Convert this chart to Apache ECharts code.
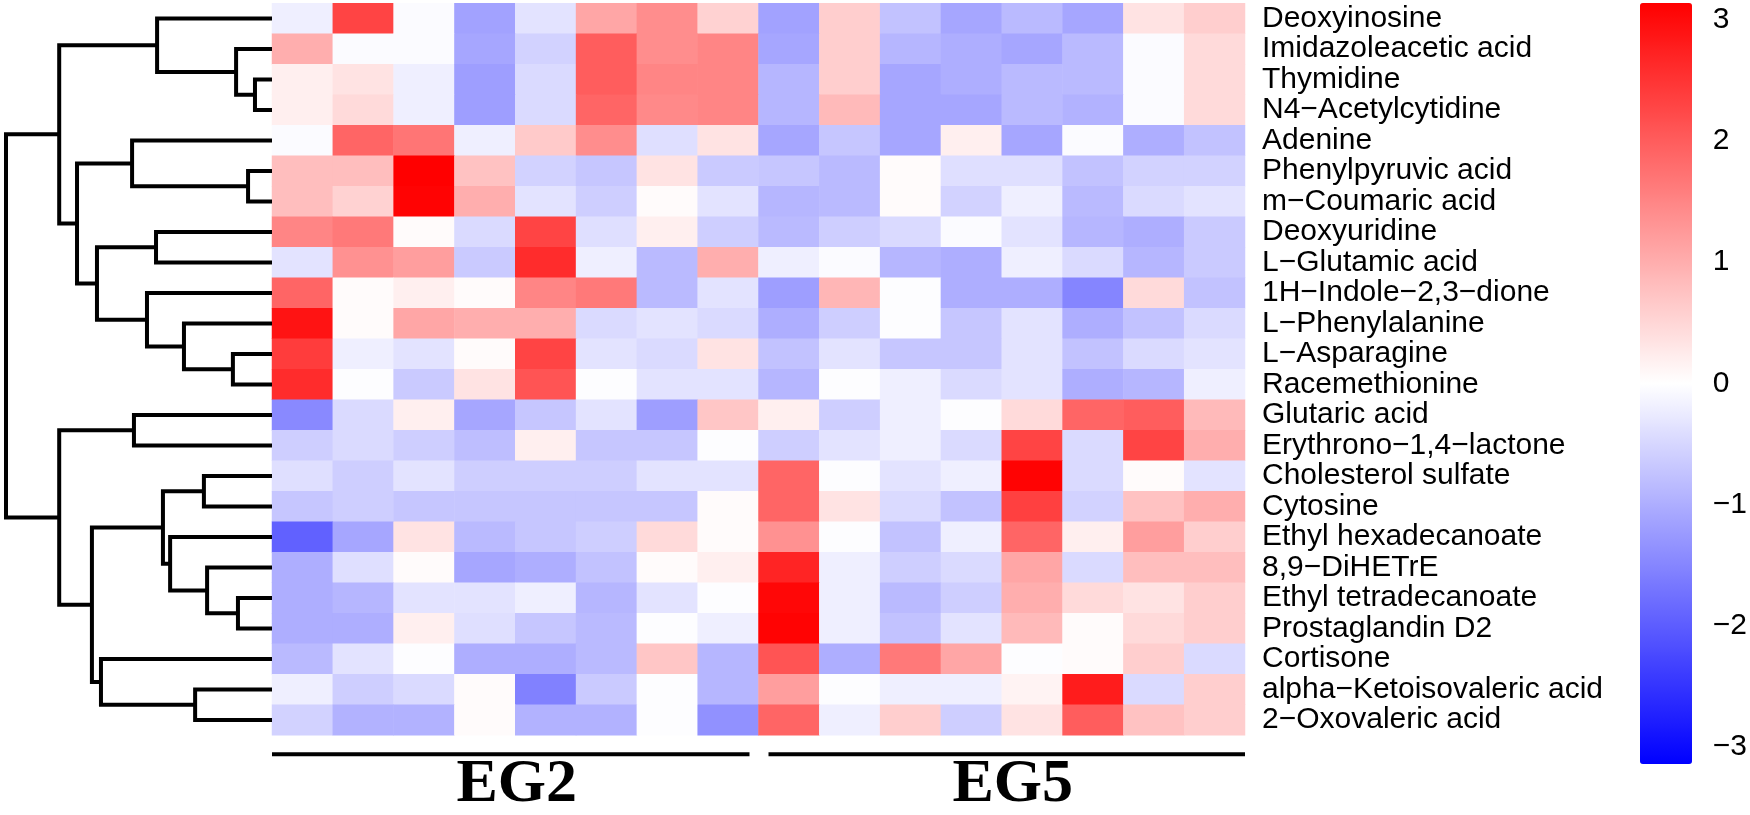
<!DOCTYPE html>
<html><head><meta charset="utf-8">
<script src="https://cdn.jsdelivr.net/npm/echarts@6/dist/echarts.min.js"></script>
<style>html,body{margin:0;padding:0;background:#fff}#c{width:1750px;height:815px}</style>
</head><body><div id="c"></div>
<script>
const M = '\u2212';
const metabolites = [
  'Deoxyinosine','Imidazoleacetic acid','Thymidine','N4'+M+'Acetylcytidine','Adenine',
  'Phenylpyruvic acid','m'+M+'Coumaric acid','Deoxyuridine','L'+M+'Glutamic acid',
  '1H'+M+'Indole'+M+'2,3'+M+'dione','L'+M+'Phenylalanine','L'+M+'Asparagine','Racemethionine',
  'Glutaric acid','Erythrono'+M+'1,4'+M+'lactone','Cholesterol sulfate','Cytosine',
  'Ethyl hexadecanoate','8,9'+M+'DiHETrE','Ethyl tetradecanoate','Prostaglandin D2','Cortisone',
  'alpha'+M+'Ketoisovaleric acid','2'+M+'Oxovaleric acid'
];
const samples = ['EG2-1','EG2-2','EG2-3','EG2-4','EG2-5','EG2-6','EG2-7','EG2-8',
                 'EG5-1','EG5-2','EG5-3','EG5-4','EG5-5','EG5-6','EG5-7','EG5-8'];
const groupNames = ['EG2','EG5'];
const groupFirstCol = [0, 8];
const groupLastCol = [7, 15];

const eg2Values = [
  [-0.2, 2.3, -0.05, -1.15, -0.35, 1.1, 1.4, 0.55],
  [1.0, -0.05, -0.05, -1.1, -0.55, 2.0, 1.4, 1.5],
  [0.2, 0.35, -0.2, -1.2, -0.45, 2.0, 1.5, 1.5],
  [0.2, 0.45, -0.2, -1.2, -0.45, 1.9, 1.45, 1.5],
  [-0.05, 1.9, 1.7, -0.2, 0.65, 1.4, -0.4, 0.35],
  [0.8, 0.8, 3.14, 0.75, -0.55, -0.7, 0.35, -0.65],
  [0.8, 0.55, 3.1, 1.0, -0.35, -0.6, 0.05, -0.35],
  [1.5, 1.65, 0.05, -0.45, 2.3, -0.4, 0.2, -0.6],
  [-0.35, 1.35, 1.2, -0.65, 2.6, -0.2, -0.85, 1.0],
  [1.9, 0.05, 0.2, 0.05, 1.5, 1.65, -0.85, -0.35],
  [2.9, 0.05, 1.1, 1.0, 1.0, -0.45, -0.35, -0.45],
  [2.4, -0.2, -0.35, 0.05, 2.3, -0.35, -0.45, 0.35],
  [2.6, -0.03, -0.65, 0.35, 2.1, -0.03, -0.35, -0.35],
  [-1.45, -0.45, 0.2, -1.1, -0.7, -0.35, -1.2, 0.7],
  [-0.6, -0.45, -0.6, -0.8, 0.2, -0.7, -0.7, -0.03],
  [-0.4, -0.6, -0.35, -0.6, -0.6, -0.6, -0.35, -0.35],
  [-0.7, -0.6, -0.7, -0.7, -0.7, -0.7, -0.7, 0.05],
  [-1.95, -1.1, 0.35, -0.85, -0.7, -0.6, 0.45, 0.05],
  [-1.0, -0.4, 0.05, -1.1, -1.0, -0.75, 0.05, 0.2],
  [-1.0, -0.9, -0.35, -0.35, -0.2, -0.9, -0.35, -0.03],
  [-1.0, -1.0, 0.2, -0.4, -0.7, -0.85, -0.03, -0.2],
  [-0.85, -0.35, -0.03, -1.0, -1.0, -0.85, 0.7, -0.9],
  [-0.2, -0.6, -0.45, 0.05, -1.55, -0.65, -0.03, -0.9],
  [-0.55, -0.95, -0.95, 0.05, -0.95, -0.95, -0.03, -1.35]
];
const eg5Values = [
  [-1.15, 0.6, -0.75, -1.1, -0.85, -1.1, 0.35, 0.6],
  [-1.1, 0.6, -0.9, -1.0, -1.1, -0.85, -0.05, 0.45],
  [-0.9, 0.6, -1.1, -1.0, -0.85, -0.85, -0.05, 0.45],
  [-0.9, 0.85, -1.1, -1.1, -0.85, -0.95, -0.05, 0.45],
  [-1.1, -0.7, -1.1, 0.2, -1.1, -0.05, -1.0, -0.75],
  [-0.7, -0.85, 0.05, -0.4, -0.4, -0.75, -0.55, -0.55],
  [-0.9, -0.85, 0.05, -0.55, -0.2, -0.85, -0.45, -0.35],
  [-0.85, -0.6, -0.45, -0.05, -0.35, -0.9, -1.0, -0.65],
  [-0.2, -0.05, -0.9, -1.0, -0.2, -0.45, -0.9, -0.65],
  [-1.2, 0.9, -0.03, -1.0, -1.0, -1.5, 0.45, -0.75],
  [-1.0, -0.6, -0.03, -0.7, -0.35, -1.0, -0.75, -0.45],
  [-0.75, -0.35, -0.7, -0.7, -0.35, -0.75, -0.45, -0.35],
  [-0.9, -0.03, -0.2, -0.45, -0.35, -1.0, -0.9, -0.2],
  [0.2, -0.6, -0.2, -0.03, 0.45, 1.9, 2.0, 0.85],
  [-0.6, -0.35, -0.2, -0.45, 2.3, -0.45, 2.3, 1.0],
  [1.9, -0.03, -0.35, -0.2, 3.1, -0.45, 0.05, -0.35],
  [1.9, 0.35, -0.45, -0.75, 2.35, -0.55, 0.75, 1.0],
  [1.35, -0.03, -0.75, -0.2, 1.9, 0.2, 1.2, 0.6],
  [2.7, -0.2, -0.6, -0.45, 1.1, -0.45, 0.8, 0.8],
  [3.05, -0.2, -0.85, -0.6, 1.0, 0.45, 0.35, 0.6],
  [3.1, -0.2, -0.75, -0.35, 0.85, 0.05, 0.45, 0.6],
  [2.1, -1.0, 1.65, 1.1, -0.03, 0.05, 0.6, -0.45],
  [1.2, -0.03, -0.2, -0.2, 0.15, 2.8, -0.45, 0.6],
  [1.9, -0.2, 0.6, -0.6, 0.35, 2.0, 0.75, 0.6]
];
// dendrogram merges: [id, childA, childB, height]; numbers = row index, strings = merge id
const dendroMerges = [
  ['A', 2, 3, 0.64], ['B', 1, 'A', 1.35], ['C', 0, 'B', 4.32],
  ['D', 5, 6, 0.9], ['E', 4, 'D', 5.26], ['F', 7, 8, 4.36],
  ['G', 11, 12, 1.47], ['H', 10, 'G', 3.31], ['I', 9, 'H', 4.7],
  ['J', 'F', 'I', 6.58], ['K', 'E', 'J', 7.33], ['L', 'C', 'K', 8.0],
  ['M', 13, 14, 5.19], ['N', 15, 16, 2.56], ['O', 19, 20, 1.28],
  ['P', 18, 'O', 2.44], ['Q', 17, 'P', 3.83], ['R', 'N', 'Q', 4.1],
  ['S', 22, 23, 2.89], ['T', 21, 'S', 6.43], ['U', 'R', 'T', 6.77],
  ['V', 'M', 'U', 8.0], ['W', 'L', 'V', 10.0]
];
const scaleMin = -3.14, scaleMax = 3.14;
const tickMin = -3, tickMax = 3, tickStep = 1;

// ---- build data
const heatData = [];
metabolites.forEach((m, r) => {
  const row = eg2Values[r].concat(eg5Values[r]);
  row.forEach((v, c) => heatData.push([c, r, v]));
});
const nodes = {};
const nodeOf = k => typeof k === 'number' ? {h: 0, y: k} : nodes[k];
const dendroData = dendroMerges.map(([id, a, b, h]) => {
  const na = nodeOf(a), nb = nodeOf(b);
  nodes[id] = {h: h, y: (na.y + nb.y) / 2};
  return [na.h, na.y, nb.h, nb.y, h];
});

const FONT = '"Liberation Sans", Arial, sans-serif';
const chart = echarts.init(document.getElementById('c'), null, {renderer: 'canvas'});
const HM = {left: 272, top: 3.3, width: 973, height: 732};
chart.setOption({
  animation: false,
  backgroundColor: '#ffffff',
  grid: [
    {left: HM.left, top: HM.top, width: HM.width, height: HM.height},
    {left: 6, top: HM.top, width: HM.left - 6, height: HM.height},
    {left: 1640, top: 19.5, width: 52, height: 727.5}
  ],
  xAxis: [
    {gridIndex: 0, type: 'category', data: samples, show: false},
    {gridIndex: 1, type: 'value', min: 0, max: 10, inverse: true, show: false},
    {gridIndex: 2, type: 'value', min: 0, max: 1, show: false}
  ],
  yAxis: [
    {gridIndex: 0, type: 'category', data: metabolites, inverse: true, position: 'right',
     axisLine: {show: false}, axisTick: {show: false}, splitLine: {show: false},
     axisLabel: {interval: 0, margin: 17, fontSize: 30, color: '#000', fontFamily: FONT}},
    {gridIndex: 1, type: 'value', min: -0.5, max: metabolites.length - 0.5, inverse: true, show: false},
    {gridIndex: 2, type: 'value', min: tickMin, max: tickMax, interval: tickStep, position: 'right',
     axisLine: {show: false}, axisTick: {show: false}, splitLine: {show: false},
     axisLabel: {margin: 21, fontSize: 30, color: '#000', fontFamily: FONT,
       formatter: v => v < 0 ? M + Math.abs(v) : String(v)}}
  ],
  visualMap: {
    type: 'continuous', seriesIndex: 0, min: scaleMin, max: scaleMax,
    left: 1640, top: 3, itemWidth: 52, itemHeight: 761, padding: 0,
    calculable: false, hoverLink: false, text: null,
    inRange: {color: ['#0000ff', '#ffffff', '#ff0000']}
  },
  series: [
    {type: 'heatmap', xAxisIndex: 0, yAxisIndex: 0, data: heatData, progressive: 0,
     itemStyle: {borderWidth: 0}, emphasis: {disabled: true}},
    {type: 'custom', xAxisIndex: 1, yAxisIndex: 1, data: dendroData, clip: false, silent: true,
     renderItem: (params, api) => {
       const aH = api.value(0), aY = api.value(1), bH = api.value(2), bY = api.value(3), h = api.value(4);
       return {type: 'polyline',
         shape: {points: [api.coord([aH, aY]), api.coord([h, aY]), api.coord([h, bY]), api.coord([bH, bY])]},
         style: {stroke: '#000', lineWidth: 4, fill: null, lineJoin: 'miter', lineCap: 'butt'}};
     }},
    {type: 'scatter', xAxisIndex: 2, yAxisIndex: 2, data: [], silent: true}
  ]
});

// group bars and labels under the heatmap, placed from the category axis
const c0 = chart.convertToPixel({xAxisIndex: 0}, samples[0]);
const c1 = chart.convertToPixel({xAxisIndex: 0}, samples[1]);
const colW = c1 - c0;
const barY = HM.top + HM.height + 19;
const graphics = [];
groupNames.forEach((g, i) => {
  let x0 = chart.convertToPixel({xAxisIndex: 0}, samples[groupFirstCol[i]]) - colW / 2;
  let x1 = chart.convertToPixel({xAxisIndex: 0}, samples[groupLastCol[i]]) + colW / 2;
  if (i === 0) x1 -= 9; else x0 += 10;
  graphics.push({type: 'rect', shape: {x: x0, y: barY - 2, width: x1 - x0, height: 4}, style: {fill: '#000'}});
  graphics.push({type: 'text', style: {text: g, x: (x0 + x1) / 2 + 6, y: barY + 31,
    align: 'center', verticalAlign: 'middle', fill: '#000',
    fontSize: 62, fontWeight: 'bold', fontFamily: '"Liberation Serif", "Times New Roman", serif'}});
});
chart.setOption({graphic: graphics});
</script>
</body></html>
